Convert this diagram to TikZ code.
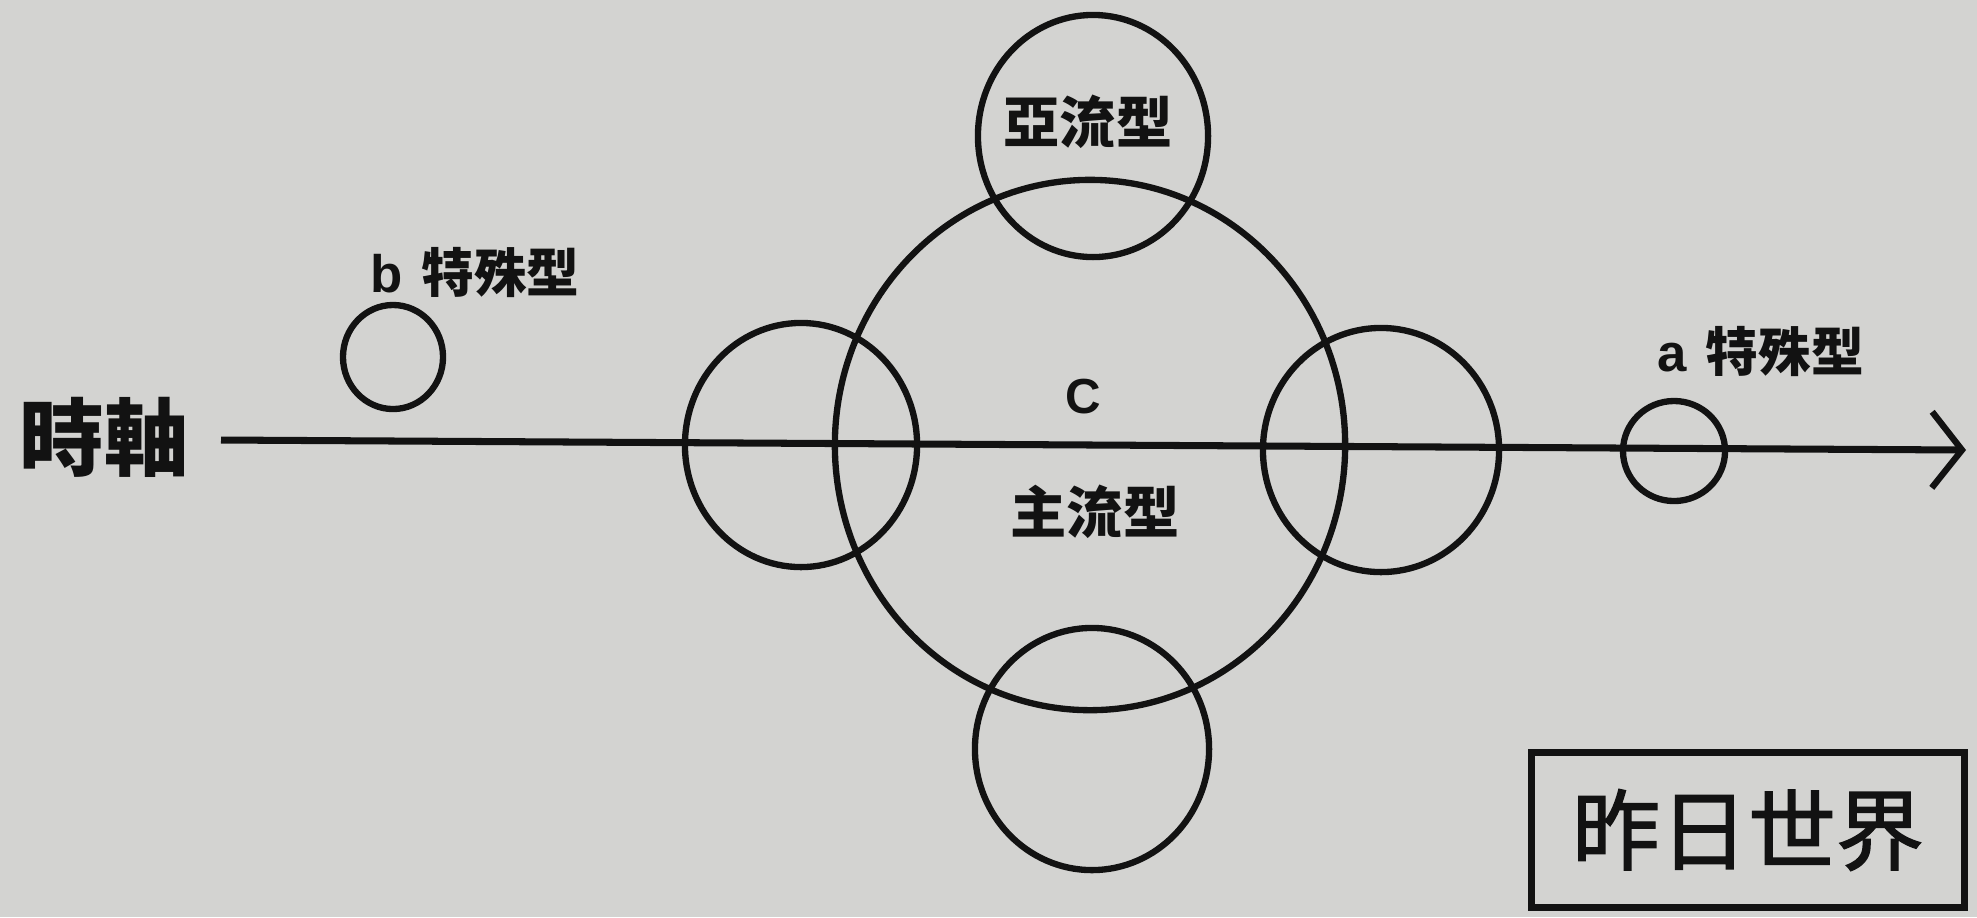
\documentclass[tikz,border=0pt]{standalone}
\usepackage{fontspec}
\setmainfont{Liberation Sans}
\newfontfamily\cjk{Noto Sans CJK TC}
\newfontfamily\cjkmid[FakeBold=1.6]{Noto Sans CJK TC}
\usetikzlibrary{shapes.geometric,arrows.meta}
\definecolor{paper}{RGB}{211,211,209}
\definecolor{ink}{RGB}{18,18,18}
\tikzset{
  ring/.style={draw=ink, line width=1.8pt, ellipse, inner sep=0pt, outer sep=0pt},
  cjklabel/.style={font=\cjk\bfseries\fontsize{16}{16}\selectfont, text=ink, inner sep=0pt},
  latinlabel/.style={font=\bfseries\fontsize{15}{15}\selectfont, text=ink, inner sep=0pt},
  axisline/.style={draw=ink, line width=2pt, -{Straight Barb[length=0.3cm 0 0, width=0.76cm 0 0, line width=1.8pt]}},
  titlebox/.style={draw=ink, line width=1.9pt, minimum width=4.33cm, minimum height=1.55cm, inner sep=0pt,
     font=\cjkmid\fontsize{25}{25}\selectfont, text=ink}
}
\begin{document}
\begin{tikzpicture}[x=0.01cm, y=-0.01cm]
\fill[paper] (0,0) rectangle (1977,917);
\useasboundingbox (0,0) rectangle (1977,917);

% time axis
\node[font=\cjk\bfseries\fontsize{24}{24}\selectfont, text=ink, inner sep=0pt] (axislabel) at (104,437) {時軸};
\coordinate (axisstart) at (221,440);
\coordinate (axisend) at (1966,450);
\draw[axisline] (axisstart) -- (axisend);

% circles
\node[ring, minimum width=5.10cm, minimum height=5.30cm] (main) at (1090,445) {};
\node[ring, minimum width=2.30cm, minimum height=2.42cm] (top) at (1093,136) {};
\node[ring, minimum width=2.34cm, minimum height=2.42cm] (bottom) at (1092,749) {};
\node[ring, minimum width=2.32cm, minimum height=2.44cm] (left) at (801,445) {};
\node[ring, minimum width=2.36cm, minimum height=2.44cm] (right) at (1381,450) {};
\node[ring, minimum width=1.00cm, minimum height=1.04cm] (bcirc) at (393,357) {};
\node[ring, minimum width=1.02cm, minimum height=1.00cm] (acirc) at (1674,451) {};

% labels
\node[cjklabel] (yaliu) at (1088,122) {亞流型};
\node[cjklabel] (zhuliu) at (1095,512) {主流型};
\node[latinlabel, font=\bfseries\fontsize{14}{14}\selectfont] (clabel) at (1083,397) {C};
\node[latinlabel, anchor=base west] (blabel) at (370,292) {b\hspace{0.35em}{\cjk\bfseries 特殊型}};
\node[latinlabel, anchor=base west] (alabel) at (1657,371) {a\hspace{0.35em}{\cjk\bfseries 特殊型}};

% title box
\node[titlebox] (title) at (1748,830) {昨日世界};
\end{tikzpicture}
\end{document}
